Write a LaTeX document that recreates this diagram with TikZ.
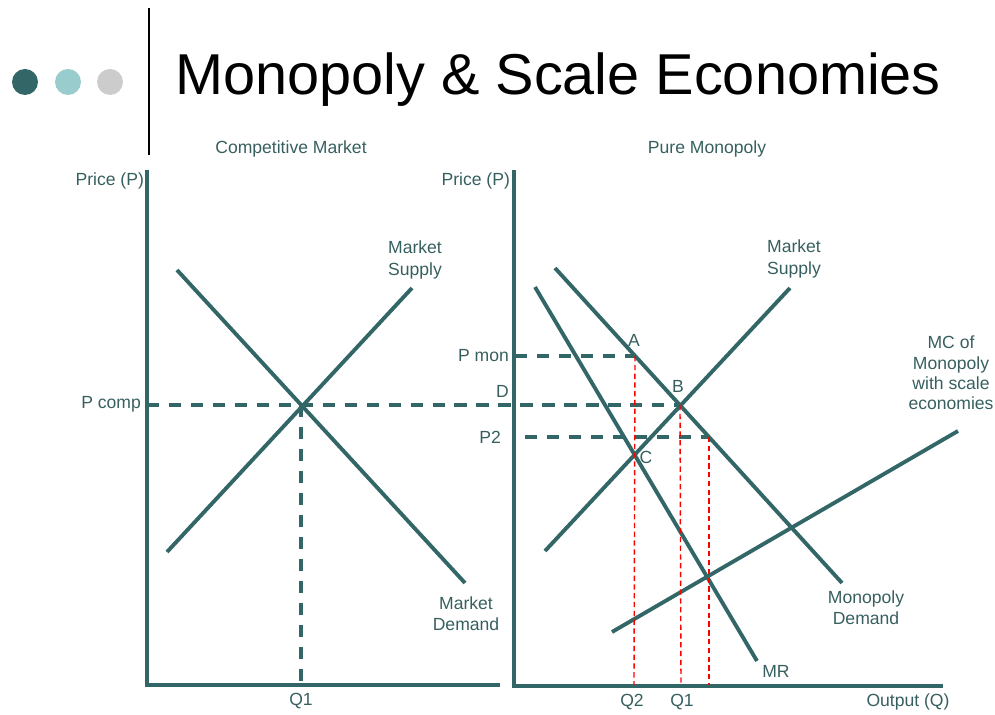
\documentclass[tikz,border=0pt]{standalone}
\usepackage{fontspec}
\setmainfont{Liberation Sans}
\usetikzlibrary{positioning}
\definecolor{slate}{RGB}{51,102,102}
\definecolor{paleteal}{RGB}{153,204,204}
\definecolor{lightgrey}{RGB}{204,204,204}
\definecolor{lbl}{RGB}{55,95,95}
\tikzset{
  curve/.style={slate,line width=2.2pt},
  guide/.style={slate,line width=2.2pt,dash pattern=on 7pt off 5.5pt},
  qline/.style={red,line width=0.8pt,dash pattern=on 3pt off 2pt},
  lab/.style={text=lbl,font=\fontsize{10}{12}\selectfont,inner sep=1pt,align=center},
  dot/.style={circle,minimum size=0.52cm,inner sep=0pt},
}
\begin{document}
\begin{tikzpicture}[x=0.02cm,y=-0.02cm]
\useasboundingbox (0,0) rectangle (995,715);
% heading
\node[dot,fill=slate] (dota) at (25,82) {};
\node[dot,fill=paleteal] (dotb) at (68,82) {};
\node[dot,fill=lightgrey] (dotc) at (110,82) {};
\draw[line width=1.4pt] (149,8) -- (149,155);
\node[anchor=base west,inner sep=0pt,font=\fontsize{32.8}{36}\selectfont] (title) at (175,95) {Monopoly \& Scale Economies};
\node[lab] (compt) at (291,149) {Competitive Market};
\node[lab] (mont) at (707,149) {Pure Monopoly};

% competitive market
\coordinate (ytop1) at (147,170);
\coordinate (o1) at (147,685);
\coordinate (xend1) at (500,685);
\draw[curve] (ytop1) -- (o1) -- (xend1);
\coordinate (dem1a) at (177,270);
\coordinate (dem1b) at (465,583);
\coordinate (sup1a) at (167,552);
\coordinate (sup1b) at (412,288);
\draw[curve] (dem1a) -- (dem1b);
\draw[curve] (sup1a) -- (sup1b);
\coordinate (e1) at (301,405);
\coordinate (pc) at (147,405);
\coordinate (q1a) at (301,685);
\node[lab,left] (price1) at (146,181) {Price (P)};
\node[lab,left] (pcomp) at (143,404) {P comp};
\node[lab] (q1l) at (301,701) {Q1};
\node[lab] (msup1) at (415,260) {Market\\Supply};
\node[lab] (mdem1) at (466,614) {Market\\Demand};

% pure monopoly
\coordinate (ytop2) at (514,170);
\coordinate (o2) at (514,686);
\coordinate (xend2) at (943,686);
\draw[curve] (ytop2) -- (o2) -- (xend2);
\coordinate (dem2a) at (555,268);
\coordinate (dem2b) at (842,583);
\coordinate (mra) at (535,287);
\coordinate (mrb) at (757,661);
\coordinate (sup2a) at (545,551);
\coordinate (sup2b) at (790,288);
\coordinate (mca) at (612,632);
\coordinate (mcb) at (958,431);
\draw[curve] (dem2a) -- (dem2b);
\draw[curve] (mra) -- (mrb);
\draw[curve] (sup2a) -- (sup2b);
\draw[curve] (mca) -- (mcb);
\coordinate (ptA) at (635,356);
\coordinate (ptB) at (680,405);
\coordinate (ptC) at (634,455);
\coordinate (ptP2) at (709,437);
\coordinate (pm) at (515,356);
\coordinate (p2) at (525,437);

% dashed guides
\draw[guide] (pc) -- (ptB);
\draw[guide] (e1) -- (q1a);
\draw[guide] (pm) -- (ptA);
\draw[guide] (p2) -- (ptP2);
\coordinate (q2b) at (634,685);
\coordinate (q1b) at (681,685);
\coordinate (q3b) at (709,685);
\draw[qline] (ptA) -- (q2b);
\draw[qline] (ptB) -- (q1b);
\draw[qline] (ptP2) -- (q3b);

\node[lab,left] (price2) at (512,181) {Price (P)};
\node[lab,left] (pmon) at (511,356) {P mon};
\node[lab,left] (dl) at (511,391) {D};
\node[lab,left] (p2l) at (503,437) {P2};
\node[lab] (la) at (634,340) {A};
\node[lab] (lb) at (678,386) {B};
\node[lab] (lc) at (646,457) {C};
\node[lab] (msup2) at (794,259) {Market\\Supply};
\node[lab,font=\fontsize{10}{11.5}\selectfont] (mcl) at (951,373) {MC of\\Monopoly\\with scale\\economies};
\node[lab] (mdem2) at (866,608) {Monopoly\\Demand};
\node[lab] (mrl) at (776,671) {MR};
\node[lab] (q2l) at (632,702) {Q2};
\node[lab] (q1r) at (682,702) {Q1};
\node[lab] (outl) at (908,702) {Output (Q)};
\end{tikzpicture}
\end{document}
